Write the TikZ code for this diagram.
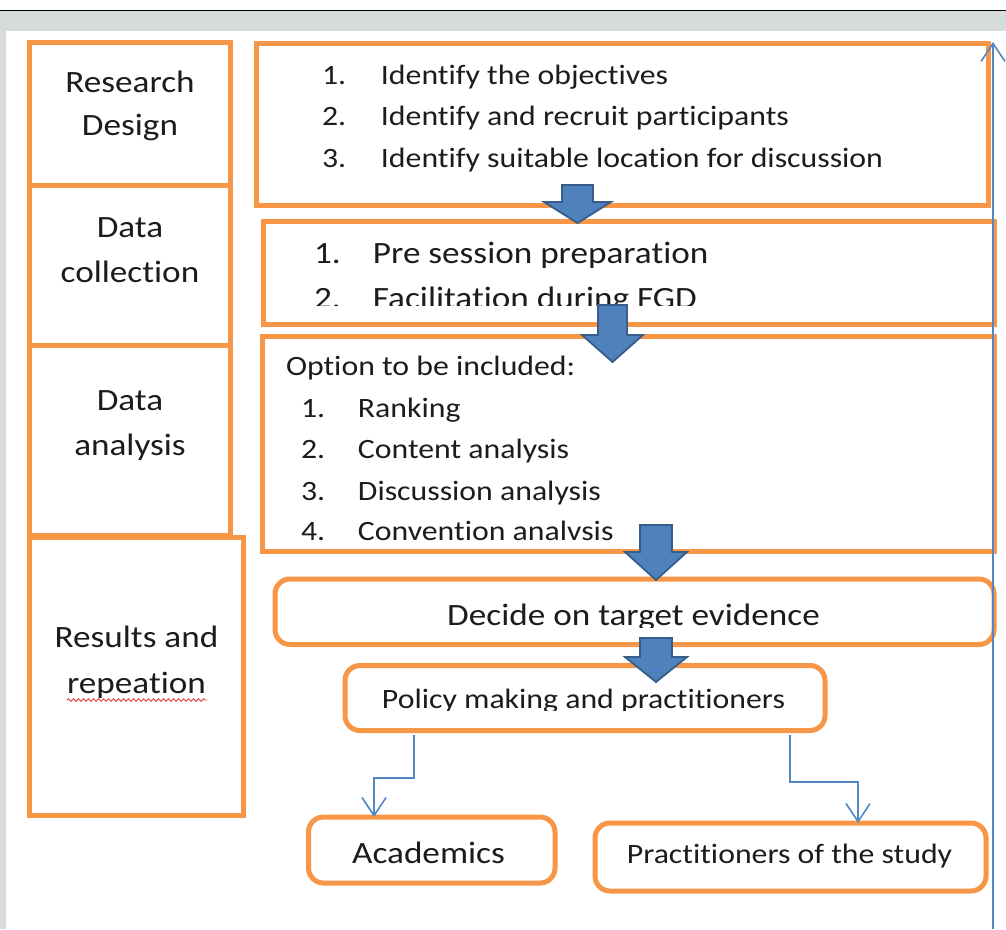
\documentclass[tikz,border=0pt]{standalone}
\usepackage{fontspec}
\setmainfont{Carlito}[FakeStretch=1.135, Ligatures=NoCommon]
\usetikzlibrary{arrows.meta,decorations.pathmorphing,fit}

\definecolor{boxorange}{RGB}{247,150,70}
\definecolor{inkgray}{RGB}{28,28,28}
\definecolor{pagegray}{RGB}{214,220,220}
\definecolor{linkblue}{RGB}{84,134,194}
\definecolor{arrowfill}{RGB}{79,129,189}
\definecolor{arrowedge}{RGB}{56,93,138}
\definecolor{spellred}{RGB}{232,60,60}

\newcommand\fsBig{\fontsize{31pt}{45pt}\selectfont}
\newcommand\fsSmall{\fontsize{28pt}{41pt}\selectfont}

\tikzset{
  obox/.style={draw=boxorange, line width=5pt, inner sep=0pt, outer sep=0pt},
  rbox/.style={obox, rounded corners=15pt},
  lbl/.style={inner sep=0pt, outer sep=0pt, text=inkgray, anchor=base},
  lblw/.style={lbl, anchor=base west},
  conn/.style={draw=linkblue, line width=1.6pt, -{Straight Barb[length=18pt,width=24pt,line width=1.6pt]}},
  pics/blockdown/.style n args={4}{code={
    \draw[fill=arrowfill, draw=arrowedge, line width=1.8pt, line join=miter]
      (-#1,0) -- (-#1,#3) -- (-#2,#3) -- (0,#4) -- (#2,#3) -- (#1,#3) -- (#1,0) -- cycle;
  }}
}

\begin{document}
\begin{tikzpicture}[x=1pt,y=-1pt]
\useasboundingbox (0,0) rectangle (1006,929);

% window frame
\fill[white] (0,0) rectangle (1006,929);
\fill[pagegray] (0,10.5) rectangle (1006,31);
\fill[pagegray] (0,31) rectangle (6,929);
\draw[black, line width=1.2pt] (0,10.5) -- (1006,10.5);

% stage column
\node[obox, fit={(29.5,42.5) (230,185.5)}] (rd) {};
\node[obox, fit={(29.5,185.5) (230,345.5)}] (dc) {};
\node[obox, fit={(29.5,345.5) (230,535.5)}] (da) {};
\node[obox, fit={(29.5,537) (243.5,815.5)}] (rr) {};

\node[lbl, font=\fsBig] (rd1) at (130,92) {Research};
\node[lbl, font=\fsBig] (rd2) at (130,135) {Design};
\node[lbl, font=\fsBig] (dc1) at (130,237) {Data};
\node[lbl, font=\fsBig] (dc2) at (130,282) {collection};
\node[lbl, font=\fsBig] (da1) at (130,410) {Data};
\node[lbl, font=\fsBig] (da2) at (130,455) {analysis};
\node[lbl, font=\fsBig] (rr1) at (136.5,647) {Results and};
\node[lbl, font=\fsBig] (rr2) at (136.5,693) {repeation};
\coordinate (sqa) at (67,700);
\coordinate (sqb) at (207,700);
\draw[spellred, line width=0.9pt, decorate,
      decoration={snake, amplitude=1.3pt, segment length=5pt}] (sqa) -- (sqb);

% step boxes
\node[obox, fit={(256,43) (988,205.5)}] (b1) {};
\node[obox, fit={(263,221.5) (994.5,324.5)}] (b2) {};
\node[obox, fit={(262.5,336) (994.5,551.5)}] (b3) {};
\node[rbox, fit={(275,579) (994,644.5)}] (b4) {};
\node[rbox, fit={(345,665.5) (825,730.5)}] (b5) {};
\node[rbox, fit={(308.5,817) (555,883)}] (ac) {};
\node[rbox, fit={(595,823) (986,891)}] (ps) {};

% research design steps
\node[lblw, font=\fsSmall] (t11) at (322,84) {\makebox[59pt][l]{1.}Identify the objectives};
\node[lblw, font=\fsSmall] (t12) at (322,125) {\makebox[59pt][l]{2.}Identify and recruit participants};
\node[lblw, font=\fsSmall] (t13) at (322,167) {\makebox[59pt][l]{3.}Identify suitable location for discussion};

% data collection steps
\node[lblw, font=\fsBig] (t21) at (314,263) {\makebox[59pt][l]{1.}Pre session preparation};
\begin{scope}
  \clip (0,0) rectangle (1006,305.5);
  \node[lblw, font=\fsBig] (t22) at (314,308) {\makebox[59pt][l]{2.}Facilitation during FGD};
\end{scope}

% analysis options
\node[lblw, font=\fsSmall] (t30) at (286,375) {Option to be included:};
\node[lblw, font=\fsSmall] (t31) at (301,417) {\makebox[57pt][l]{1.}Ranking};
\node[lblw, font=\fsSmall] (t32) at (301,458) {\makebox[57pt][l]{2.}Content analysis};
\node[lblw, font=\fsSmall] (t33) at (301,500) {\makebox[57pt][l]{3.}Discussion analysis};
\begin{scope}
  \clip (0,0) rectangle (1006,541.5);
  \node[lblw, font=\fsSmall] (t34) at (301,540) {\makebox[57pt][l]{4.}Convention analvsis};
\end{scope}

% outcome boxes
\begin{scope}
  \clip (0,0) rectangle (1006,627);
  \node[lbl, font=\fsBig] (t4) at (633.5,625) {Decide on target evidence};
\end{scope}
\begin{scope}
  \clip (0,0) rectangle (1006,710);
  \node[lbl, font=\fsSmall] (t5) at (583.5,708) {Policy making and practitioners};
\end{scope}
\node[lbl, font=\fsBig] (t6) at (428.5,863) {Academics};
\node[lbl, font=\fsSmall] (t7) at (789.5,863) {Practitioners of the study};

% block arrows between stages
\pic at (577.5,185) {blockdown={15.5}{33.5}{17}{38}};
\pic at (612.5,305) {blockdown={14.5}{30.5}{30}{57}};
\pic at (656,525) {blockdown={16}{31}{27}{55}};
\pic at (656,638) {blockdown={16}{31}{19}{44}};

% branching connectors
\draw[conn] ([xshift=-171pt,yshift=-4pt]b5.south) -- ++(0,43.5) -| ([xshift=-57.75pt]ac.north);
\draw[conn] ([xshift=205pt,yshift=-4pt]b5.south) -- ++(0,47.5) -| ([xshift=67.5pt]ps.north);

% side timeline arrow
\coordinate (vb) at (993,929);
\coordinate (vt) at (993,42);
\draw[conn] (vb) -- (vt);
\end{tikzpicture}
\end{document}
